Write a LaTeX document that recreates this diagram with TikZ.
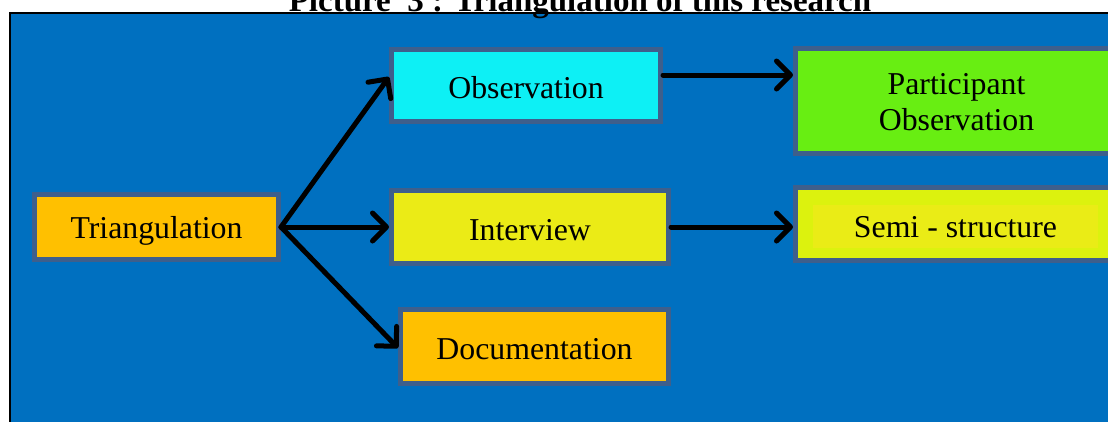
\documentclass[tikz,border=0pt]{standalone}
\usepackage{fontspec}
\setmainfont{Liberation Serif}
\usetikzlibrary{arrows.meta}
\definecolor{bgblue}{HTML}{0070C0}
\definecolor{boxborder}{HTML}{3E5F8C}
\definecolor{orangefill}{HTML}{FFC000}
\definecolor{cyanfill}{HTML}{0DF0F5}
\definecolor{greenfill}{HTML}{68EE12}
\definecolor{yellowfill}{HTML}{EBEB16}
\definecolor{semifill}{HTML}{DCF20E}
\definecolor{semitextfill}{HTML}{EAEC16}
\newcommand{\txtdown}[2]{\raisebox{-#1}[\height][\depth]{#2}}
\tikzset{
  box/.style={draw=boxborder, line width=5pt, align=center, inner sep=0pt,
    font=\fontsize{31.8}{36}\selectfont, text=black},
  arr/.style={draw=black, line width=5pt, line cap=round,
    -{Straight Barb[length=14pt,width=28pt,round]}}
}
\begin{document}
\begin{tikzpicture}[x=1pt,y=-1pt]
\useasboundingbox (0,0) rectangle (1108,421);
% background panel
\draw[fill=bgblue, draw=black, line width=2pt] (10,13) rectangle (1130,440);
% title
\node[anchor=base, font=\bfseries\fontsize{33}{36}\selectfont] (title) at (580,11) {Picture\ \ 3 : Triangulation of this research};
% boxes
\node[box, fill=orangefill, minimum width=244pt, minimum height=65pt] (tri) at (156.5,227) {\txtdown{4pt}{Triangulation}};
\node[box, fill=cyanfill, minimum width=269pt, minimum height=72pt] (obs) at (526,85.5) {\txtdown{2pt}{Observation}};
\node[box, fill=greenfill, minimum width=322pt, minimum height=105pt] (part) at (956.5,101) {\txtdown{4pt}{\begin{tabular}{@{}c@{}}Participant\\[0pt]Observation\end{tabular}}};
\node[box, fill=yellowfill, minimum width=277pt, minimum height=73pt] (int) at (530,227) {\txtdown{3pt}{Interview}};
\node[box, fill=semifill, minimum width=322pt, minimum height=73pt] (semi) at (956.5,224) {};
\node[fill=semitextfill, minimum width=285pt, minimum height=43pt, inner sep=0pt,
  font=\fontsize{31.8}{36}\selectfont] (semitext) at (955.5,226.5) {\txtdown{1pt}{Semi - structure}};
\node[box, fill=orangefill, minimum width=268pt, minimum height=74pt] (doc) at (534.5,346.5) {\txtdown{3pt}{Documentation}};
% connectors
\draw[arr] (tri.east) -- ([yshift=8.5pt]obs.west);
\draw[arr] (tri.east) -- (int.west);
\draw[arr] (tri.east) -- ([yshift=-1.5pt]doc.west);
\draw[arr] ([yshift=10.5pt]obs.east) -- ([yshift=10.5pt]obs.east -| part.west);
\draw[arr] (int.east) -- (int.east -| semi.west);
\end{tikzpicture}
\end{document}
